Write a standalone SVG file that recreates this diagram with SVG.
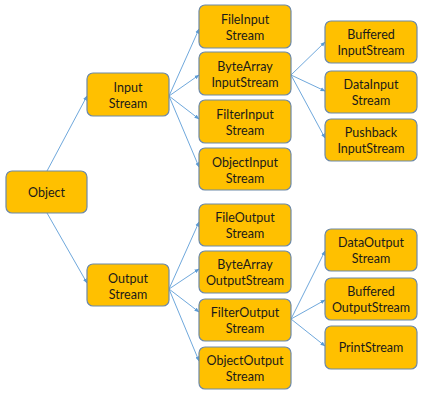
<svg xmlns="http://www.w3.org/2000/svg" width="426" height="406" viewBox="0 0 426 406">
<defs>
<marker id="ah" viewBox="0 0 10 10" refX="9" refY="5" markerWidth="5" markerHeight="5" orient="auto" markerUnits="userSpaceOnUse">
<path d="M0,1 L10,5 L0,9 z" fill="#5B9BD5"/>
</marker>
<style>
.n rect{fill:#FFC000;stroke:#6D89A8;stroke-width:1.2}
.n text{font-family:Lato,"Liberation Sans",sans-serif;font-size:12.5px;fill:#1a1a1a;text-anchor:middle}
.c line{stroke:#6FA8DC;stroke-width:1;marker-end:url(#ah)}
</style>
</defs>
<rect width="426" height="406" fill="#fff"/>
<g class="c" id="connectors">
<line x1="47" y1="171" x2="87" y2="96"/>
<line x1="47" y1="213" x2="87" y2="283"/>
<line x1="169" y1="96" x2="199" y2="29"/>
<line x1="169" y1="96" x2="199" y2="75"/>
<line x1="169" y1="96" x2="199" y2="119"/>
<line x1="169" y1="96" x2="199" y2="167"/>
<line x1="169" y1="289" x2="199" y2="222"/>
<line x1="169" y1="289" x2="199" y2="269"/>
<line x1="169" y1="289" x2="199" y2="312"/>
<line x1="169" y1="289" x2="199" y2="361"/>
<line x1="291" y1="75" x2="325" y2="42"/>
<line x1="291" y1="75" x2="325" y2="91"/>
<line x1="291" y1="75" x2="325" y2="138"/>
<line x1="291" y1="319" x2="325" y2="251"/>
<line x1="291" y1="319" x2="325" y2="300"/>
<line x1="291" y1="319" x2="325" y2="346"/>
</g>
<g class="n" id="object"><rect x="6" y="171" width="81" height="42" rx="6"/><text x="46.5" y="197">Object</text></g>
<g class="n" id="inputstream"><rect x="87" y="73" width="82" height="43" rx="6"/><text x="128" y="92">Input</text><text x="128" y="108">Stream</text></g>
<g class="n" id="outputstream"><rect x="87" y="264" width="82" height="42" rx="6"/><text x="128" y="283">Output</text><text x="128" y="299">Stream</text></g>
<g class="n" id="fileinputstream"><rect x="199" y="5" width="92" height="43" rx="6"/><text x="245" y="24">FileInput</text><text x="245" y="40">Stream</text></g>
<g class="n" id="bytearrayinputstream"><rect x="199" y="52" width="92" height="43" rx="6"/><text x="245" y="71">ByteArray</text><text x="245" y="87">InputStream</text></g>
<g class="n" id="filterinputstream"><rect x="199" y="100" width="92" height="43" rx="6"/><text x="245" y="119">FilterInput</text><text x="245" y="135">Stream</text></g>
<g class="n" id="objectinputstream"><rect x="199" y="148" width="92" height="42" rx="6"/><text x="245" y="167">ObjectInput</text><text x="245" y="183">Stream</text></g>
<g class="n" id="fileoutputstream"><rect x="199" y="204" width="92" height="42" rx="6"/><text x="245" y="222">FileOutput</text><text x="245" y="238">Stream</text></g>
<g class="n" id="bytearrayoutputstream"><rect x="199" y="251" width="92" height="42" rx="6"/><text x="245" y="269">ByteArray</text><text x="245" y="285">OutputStream</text></g>
<g class="n" id="filteroutputstream"><rect x="199" y="299" width="92" height="42" rx="6"/><text x="245" y="317">FilterOutput</text><text x="245" y="333">Stream</text></g>
<g class="n" id="objectoutputstream"><rect x="199" y="347" width="92" height="42" rx="6"/><text x="245" y="365">ObjectOutput</text><text x="245" y="381">Stream</text></g>
<g class="n" id="bufferedinputstream"><rect x="325" y="21" width="92" height="42" rx="6"/><text x="371" y="39">Buffered</text><text x="371" y="55">InputStream</text></g>
<g class="n" id="datainputstream"><rect x="325" y="71" width="92" height="42" rx="6"/><text x="371" y="89">DataInput</text><text x="371" y="105">Stream</text></g>
<g class="n" id="pushbackinputstream"><rect x="325" y="119" width="92" height="42" rx="6"/><text x="371" y="137">Pushback</text><text x="371" y="153">InputStream</text></g>
<g class="n" id="dataoutputstream"><rect x="325" y="229" width="92" height="42" rx="6"/><text x="371" y="247">DataOutput</text><text x="371" y="263">Stream</text></g>
<g class="n" id="bufferedoutputstream"><rect x="325" y="278" width="92" height="42" rx="6"/><text x="371" y="296">Buffered</text><text x="371" y="312">OutputStream</text></g>
<g class="n" id="printstream"><rect x="325" y="326" width="92" height="43" rx="6"/><text x="371" y="352">PrintStream</text></g>
</svg>
